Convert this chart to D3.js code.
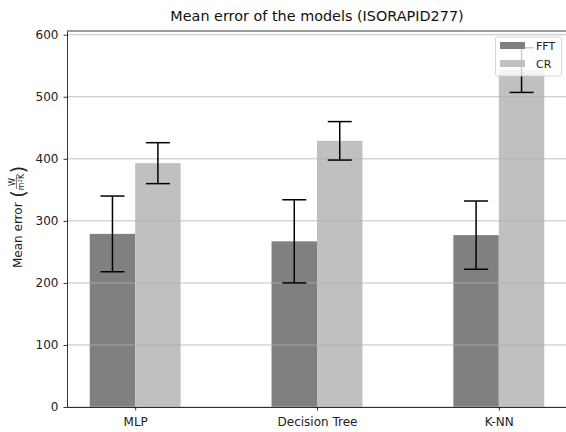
<!DOCTYPE html>
<html>
<head>
<meta charset="utf-8">
<script src="https://d3js.org/d3.v7.min.js"></script>
<style>
    html, body { margin: 0; padding: 0; background: #fff; }
    svg { display: block; font-family: "DejaVu Sans", sans-serif; }
</style>
</head>
<body>
<div id="chart"></div>
<script>
// Data
const categories = ['MLP', 'Decision Tree', 'K-NN'];
const seriesNames = ['FFT', 'CR'];
const fftMean = [279, 267, 277];
const fftErr = [61, 67, 55];
const crMean = [393, 429, 543];
const crErr = [33, 31, 36];
const yTicks = [0, 100, 200, 300, 400, 500, 600];

const width = 566;
const height = 432;
const margin = { top: 31, right: -1, bottom: 25, left: 67 };
const colors = { FFT: '#808080', CR: '#c0c0c0' };
const barWidth = 0.25;

const svg = d3.select('#chart')
    .append('svg')
    .attr('width', width)
    .attr('height', height);

// Scales (data units, matplotlib-style margins)
const x = d3.scaleLinear()
    .domain([-0.375, 2.375])
    .range([margin.left, width - margin.right]);

const y = d3.scaleLinear()
    .domain([0, 606])
    .range([height - margin.bottom, margin.top]);

const series = [
    { name: 'FFT', mean: fftMean, err: fftErr, offset: -barWidth / 2 },
    { name: 'CR', mean: crMean, err: crErr, offset: barWidth / 2 }
];

// Bars
series.forEach(s => {
    svg.append('g')
        .selectAll('rect')
        .data(categories)
        .enter()
        .append('rect')
        .attr('x', (d, i) => x(i + s.offset - barWidth / 2))
        .attr('y', (d, i) => y(s.mean[i]))
        .attr('width', (d, i) => x(i + s.offset + barWidth / 2) - x(i + s.offset - barWidth / 2))
        .attr('height', (d, i) => y(0) - y(s.mean[i]))
        .attr('fill', colors[s.name]);
});

// Grid lines sit above the bars, below the error bars
svg.append('g')
    .selectAll('line')
    .data(yTicks)
    .enter()
    .append('line')
    .attr('x1', x.range()[0])
    .attr('x2', x.range()[1])
    .attr('y1', d => y(d))
    .attr('y2', d => y(d))
    .attr('stroke', '#b0b0b0')
    .attr('stroke-width', 0.8);

// Error bars
const capHalf = 12;
series.forEach(s => {
    const g = svg.append('g')
        .attr('stroke', '#000')
        .attr('stroke-width', 1.5);
    categories.forEach((c, i) => {
        const cx = x(i + s.offset);
        const lo = y(s.mean[i] - s.err[i]);
        const hi = y(s.mean[i] + s.err[i]);
        g.append('line').attr('x1', cx).attr('x2', cx).attr('y1', lo).attr('y2', hi);
        g.append('line').attr('x1', cx - capHalf).attr('x2', cx + capHalf).attr('y1', lo).attr('y2', lo);
        g.append('line').attr('x1', cx - capHalf).attr('x2', cx + capHalf).attr('y1', hi).attr('y2', hi);
    });
});

// Axes
const yAxis = d3.axisLeft(y)
    .tickValues(yTicks)
    .tickSize(3.5)
    .tickSizeOuter(0)
    .tickPadding(5);

const xAxis = d3.axisBottom(x)
    .tickValues(d3.range(categories.length))
    .tickFormat(i => categories[i])
    .tickSize(3.5)
    .tickSizeOuter(0)
    .tickPadding(6.5);

const yG = svg.append('g')
    .attr('transform', `translate(${margin.left},0)`)
    .call(yAxis);

const xG = svg.append('g')
    .attr('transform', `translate(0,${height - margin.bottom})`)
    .call(xAxis);

[yG, xG].forEach(ax => {
    ax.select('.domain').attr('stroke', '#000').attr('stroke-width', 0.8);
    ax.selectAll('.tick line').attr('stroke', '#000').attr('stroke-width', 0.8);
    ax.selectAll('.tick text')
        .attr('fill', '#222')
        .attr('font-size', '12px')
        .attr('font-family', '"DejaVu Sans", sans-serif');
});

// Top spine
svg.append('line')
    .attr('x1', x.range()[0])
    .attr('x2', x.range()[1])
    .attr('y1', y.range()[1])
    .attr('y2', y.range()[1])
    .attr('stroke', '#000')
    .attr('stroke-width', 0.8);

// Title
svg.append('text')
    .attr('x', (x.range()[0] + x.range()[1]) / 2)
    .attr('y', 21)
    .attr('text-anchor', 'middle')
    .attr('font-size', '14.4px')
    .attr('fill', '#111')
    .text('Mean error of the models (ISORAPID277)');

// Y label: "Mean error (W / m²K)"
const yl = svg.append('g')
    .attr('transform', 'translate(22,217) rotate(-90)')
    .attr('fill', '#222');

yl.append('text')
    .attr('x', -51)
    .attr('y', 0)
    .attr('font-size', '12px')
    .text('Mean error');

yl.append('text')
    .attr('x', 23)
    .attr('y', 2.5)
    .attr('text-anchor', 'middle')
    .attr('font-size', '19px')
    .text('(');

yl.append('text')
    .attr('x', 35)
    .attr('y', -7.5)
    .attr('text-anchor', 'middle')
    .attr('font-size', '8px')
    .text('W');

yl.append('line')
    .attr('x1', 28)
    .attr('x2', 42)
    .attr('y1', -5.6)
    .attr('y2', -5.6)
    .attr('stroke', '#222')
    .attr('stroke-width', 0.6);

yl.append('text')
    .attr('x', 35)
    .attr('y', 2)
    .attr('text-anchor', 'middle')
    .attr('font-size', '8px')
    .html('m<tspan font-size="5.5px" dy="-2.5">2</tspan><tspan dy="2.5">K</tspan>');

yl.append('text')
    .attr('x', 47.5)
    .attr('y', 2.5)
    .attr('text-anchor', 'middle')
    .attr('font-size', '19px')
    .text(')');

// Legend
const legend = svg.append('g');

legend.append('rect')
    .attr('x', 495.5)
    .attr('y', 37)
    .attr('width', 66)
    .attr('height', 39)
    .attr('rx', 2)
    .attr('fill', '#fff')
    .attr('fill-opacity', 0.8)
    .attr('stroke', '#cccccc')
    .attr('stroke-width', 0.8);

seriesNames.forEach((name, i) => {
    const row = 42 + i * 18;
    legend.append('rect')
        .attr('x', 500)
        .attr('y', row)
        .attr('width', 25)
        .attr('height', 7)
        .attr('fill', colors[name]);
    legend.append('text')
        .attr('x', 536)
        .attr('y', row + 8)
        .attr('font-size', '11px')
        .attr('fill', '#222')
        .text(name);
});
</script>
</body>
</html>
